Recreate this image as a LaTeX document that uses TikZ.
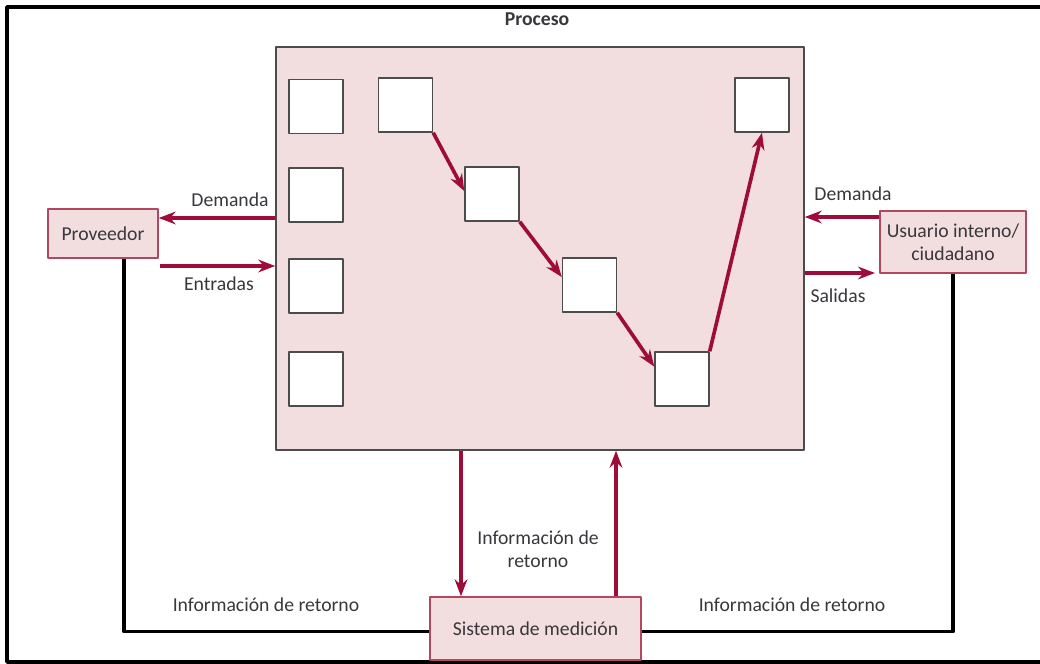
\documentclass[tikz,border=0pt]{standalone}
\usepackage{fontspec}
\setmainfont{Carlito}
\usetikzlibrary{arrows.meta,positioning}
\begin{document}
\begin{tikzpicture}[x=0.025cm,y=-0.025cm,line join=round,>={Stealth[length=12pt,width=9pt]},font=\fontsize{14pt}{16.5pt}\selectfont]
		%\draw[gray!50] (0,0) grid[step=100] (1040,664);
		\definecolor{rosa}{RGB}{242,222,222}
		\definecolor{granate}{RGB}{158,12,58}
		\definecolor{bordegranate}{RGB}{178,72,96}
		\definecolor{texto}{RGB}{55,55,60}
		\tikzset{
			caja/.style={draw=gray!60!black,fill=white,line width=1pt,minimum size=1.35cm,inner sep=0pt},
			bloque/.style={draw=bordegranate,fill=rosa,line width=1pt,text=texto,align=center,inner sep=2pt},
			flecha/.style={->,draw=granate,line width=2.6pt},
			retorno/.style={draw=black,line width=2.4pt},
			etiqueta/.style={text=texto,align=center,inner sep=0pt}
		}
		\useasboundingbox (0,0) rectangle (1040,664);
		\draw[line width=2.4pt] (1040,7)--(7,7)--(7,662)--(1040,662);
		
		\node[draw=gray!60!black,fill=rosa,line width=1pt,minimum width=13.2cm,minimum height=10.075cm,inner sep=0pt] (proceso) at (540,248.5) {};
		\node[etiqueta,font=\fontsize{14pt}{16.5pt}\selectfont\bfseries] (titulo) at (537,19) {Proceso};
		
		% columna de la izquierda
		\foreach \y [count=\i] in {106.5,195,286,379}
		\node[caja] (s\i) at (316,\y) {};
		
		% cadena
		\node[caja] (c1) at (405.5,105) {};
		\node[caja] (c2) at (492,194) {};
		\node[caja] (c3) at (589.5,285) {};
		\node[caja] (c4) at (682,379) {};
		\node[caja] (c5) at (762,105) {};
		\draw[flecha] (c1.south east)--(c2.174);
		\draw[flecha] (c2.south east)--(c3.164);
		\draw[flecha] (c3.south east)--(c4.156);
		\draw[flecha] (c4.north east)--(c5.south);
		
		\node[bloque,minimum width=2.75cm,minimum height=1.225cm] (prov) at (103,233.5) {Proveedor};
		\node[bloque,minimum width=3.65cm,minimum height=1.55cm] (usu) at (953,242) {Usuario interno/\\ciudadano};
		\node[bloque,minimum width=5.275cm,minimum height=1.575cm] (sist) at (535.5,628.5) {Sistema de medición};
		
		\coordinate (entrada) at (160,266);
		\coordinate (salida) at (875,273);
		\draw[flecha] (proceso.west |- 0,218)--(prov.east |- 0,218);
		\draw[flecha] (entrada)--(proceso.west |- entrada);
		\draw[flecha] (usu.west |- 0,217)--(proceso.east |- 0,217);
		\draw[flecha] (proceso.east |- salida)--(salida);
		\draw[flecha] (proceso.south -| 461,0)--(sist.north -| 461,0);
		\draw[flecha] (sist.north -| 616,0)--(proceso.south -| 616,0);
		
		\draw[retorno] ([xshift=0.525cm]prov.south)|-([yshift=-0.08cm]sist.west);
		\draw[retorno] (usu.south)|-([yshift=-0.08cm]sist.east);
		
		\node[etiqueta] (dem1) at (230,200) {Demanda};
		\node[etiqueta] (ent) at (219,284) {Entradas};
		\node[etiqueta] (dem2) at (853,194) {Demanda};
		\node[etiqueta] (sal) at (838,296) {Salidas};
		\node[etiqueta] (info) at (538,549) {Información de\\retorno};
		\node[etiqueta] (info1) at (266,605) {Información de retorno};
		\node[etiqueta] (info2) at (792,605) {Información de retorno};
	\end{tikzpicture}
\end{document}
